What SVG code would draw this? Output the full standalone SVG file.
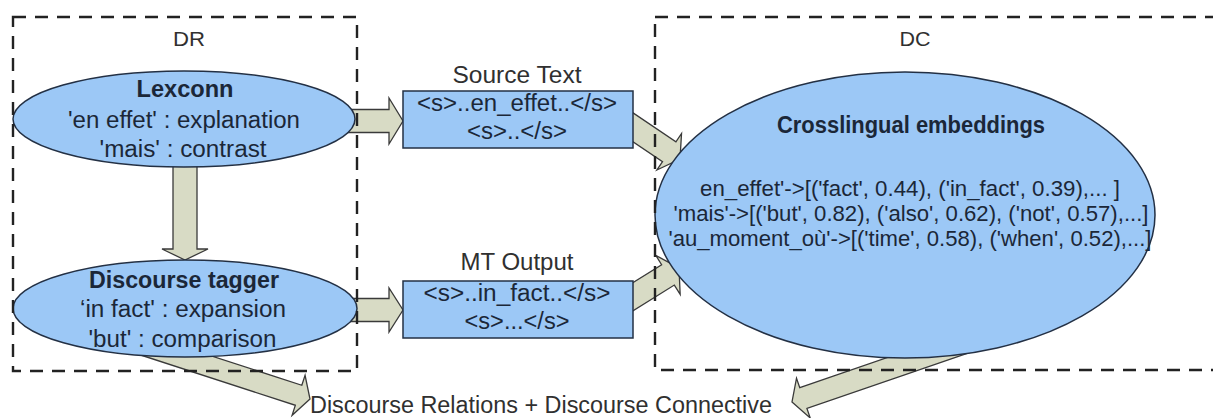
<svg xmlns="http://www.w3.org/2000/svg" width="1213" height="418" viewBox="0 0 1213 418">
  <style>
    text { font-family: "Liberation Sans", Arial, sans-serif; }
    .node { fill: #9cc8f6; stroke: #233044; stroke-width: 1.5; }
    .ntext { fill: #1b2738; font-size: 23px; text-anchor: middle; }
    .emb { font-size: 21.5px; }
    .bold { font-weight: bold; }
    .label { fill: #303030; font-size: 23px; text-anchor: middle; }
    .cont { fill: none; stroke: #222; stroke-width: 2.4; stroke-dasharray: 13 9; }
    .arrow { fill: #d8dbc5; stroke: #3a3a3a; stroke-width: 1.3; stroke-linejoin: miter; }
  </style>
  <rect width="1213" height="418" fill="#ffffff"/>

  <g id="connectors">
    <!-- Lexconn -> Source Text -->
    <polygon class="arrow" transform="translate(403,121)" points="-63,-11.5 -14,-11.5 -14,-23 0,0 -14,23 -14,11.5 -63,11.5"/>
    <!-- Discourse tagger -> MT Output -->
    <polygon class="arrow" transform="translate(403,310)" points="-63,-11.5 -14,-11.5 -14,-22 0,0 -14,22 -14,11.5 -63,11.5"/>
    <!-- Lexconn -> Discourse tagger -->
    <polygon class="arrow" transform="translate(185,260) rotate(90)" points="-100,-12 -11,-12 -11,-23 0,0 -11,23 -11,12 -100,12"/>
    <!-- Source Text -> Crosslingual embeddings -->
    <polygon class="arrow" transform="translate(680,159) rotate(34)" points="-75,-12 -13,-12 -13,-22 0,0 -13,22 -13,12 -75,12"/>
    <!-- MT Output -> Crosslingual embeddings -->
    <polygon class="arrow" transform="translate(679,268) rotate(-32)" points="-75,-12 -13,-12 -13,-23 0,0 -13,23 -13,12 -75,12"/>
    <!-- Discourse tagger -> bottom label -->
    <polygon class="arrow" transform="translate(310,399) rotate(18)" points="-178,-10.5 -12,-10.5 -12,-21 0,0 -12,21 -12,10.5 -178,10.5"/>
    <!-- Crosslingual embeddings -> bottom label -->
    <polygon class="arrow" transform="translate(792,402) rotate(161)" points="-200,-11 -12,-11 -12,-21 0,0 -12,21 -12,11 -200,11"/>
  </g>

  <g id="lexconn">
    <ellipse class="node" cx="184" cy="119" rx="171" ry="48"/>
    <text class="ntext bold" x="185" y="97" textLength="97" lengthAdjust="spacingAndGlyphs">Lexconn</text>
    <text class="ntext" x="184" y="128" textLength="232" lengthAdjust="spacingAndGlyphs">'en effet' : explanation</text>
    <text class="ntext" x="183" y="157" textLength="167" lengthAdjust="spacingAndGlyphs">'mais' : contrast</text>
  </g>

  <g id="discourse-tagger">
    <ellipse class="node" cx="185" cy="308.5" rx="172" ry="48.5"/>
    <text class="ntext bold" x="184" y="288" textLength="190" lengthAdjust="spacingAndGlyphs">Discourse tagger</text>
    <text class="ntext" x="183" y="317" textLength="206" lengthAdjust="spacingAndGlyphs">‘in fact' : expansion</text>
    <text class="ntext" x="182.5" y="347" textLength="188" lengthAdjust="spacingAndGlyphs">'but' : comparison</text>
  </g>

  <g id="source-text">
    <text class="label" x="517" y="83" textLength="129" lengthAdjust="spacingAndGlyphs">Source Text</text>
    <rect class="node" x="403" y="91" width="230" height="57"/>
    <text class="ntext" x="517" y="111" textLength="200" lengthAdjust="spacingAndGlyphs">&lt;s&gt;..en_effet..&lt;/s&gt;</text>
    <text class="ntext" x="517" y="139" textLength="100" lengthAdjust="spacingAndGlyphs">&lt;s&gt;..&lt;/s&gt;</text>
  </g>

  <g id="mt-output">
    <text class="label" x="517" y="270" textLength="113" lengthAdjust="spacingAndGlyphs">MT Output</text>
    <rect class="node" x="403" y="281" width="230" height="57"/>
    <text class="ntext" x="517" y="301" textLength="187" lengthAdjust="spacingAndGlyphs">&lt;s&gt;..in_fact..&lt;/s&gt;</text>
    <text class="ntext" x="517" y="329" textLength="105" lengthAdjust="spacingAndGlyphs">&lt;s&gt;...&lt;/s&gt;</text>
  </g>

  <g id="crosslingual-embeddings">
    <ellipse class="node" cx="905" cy="215" rx="250" ry="143"/>
    <text class="ntext bold" x="911" y="133" textLength="268" lengthAdjust="spacingAndGlyphs">Crosslingual embeddings</text>
    <text class="ntext emb" x="910" y="196" textLength="420" lengthAdjust="spacingAndGlyphs">en_effet'-&gt;[('fact', 0.44), ('in_fact', 0.39),... ]</text>
    <text class="ntext emb" x="911" y="221" textLength="475" lengthAdjust="spacingAndGlyphs">'mais'-&gt;[('but', 0.82), ('also', 0.62), ('not', 0.57),...]</text>
    <text class="ntext emb" x="910" y="246" textLength="483" lengthAdjust="spacingAndGlyphs">'au_moment_où'-&gt;[('time', 0.58), ('when', 0.52),...]</text>
  </g>

  <g id="output-label">
    <text class="label" x="541" y="412.5" textLength="462" lengthAdjust="spacingAndGlyphs">Discourse Relations + Discourse Connective</text>
  </g>

  <g id="dr-container">
    <rect class="cont" x="13" y="17" width="344" height="354"/>
    <text class="label" x="189" y="46" style="font-size:20px" textLength="32" lengthAdjust="spacingAndGlyphs">DR</text>
  </g>

  <g id="dc-container">
    <rect class="cont" x="655" y="17" width="570" height="353"/>
    <text class="label" x="915" y="46" style="font-size:20px" textLength="31" lengthAdjust="spacingAndGlyphs">DC</text>
  </g>
</svg>
